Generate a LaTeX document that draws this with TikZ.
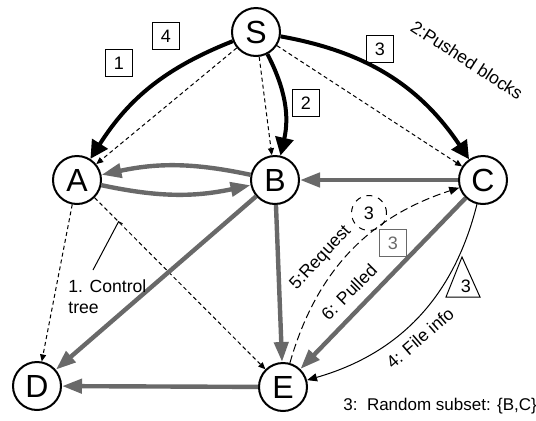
\documentclass[tikz,border=0pt]{standalone}
\usepackage{fontspec}
\setmainfont{Liberation Sans}
\usetikzlibrary{arrows.meta}
\definecolor{pullgray}{RGB}{105,105,105}

\begin{document}
\begin{tikzpicture}[x=0.5pt,y=0.5pt,
  peer/.style={circle,draw,line width=1pt,minimum size=24pt,inner sep=0pt,fill=white,font=\fontsize{16}{16}\selectfont},
  push/.style={-{Triangle[length=9pt,width=9pt]},line width=2pt},
  ctrl/.style={-{Triangle[length=3.5pt,width=3pt]},dash pattern=on 2pt off 1.5pt,line width=0.5pt},
  pull/.style={-{Triangle[length=10pt,width=7pt]},line width=2.2pt,pullgray},
  numbox/.style={draw,line width=0.6pt,minimum size=13.5pt,inner sep=0pt,font=\fontsize{9}{9}\selectfont},
  lbl/.style={font=\fontsize{8.8}{10.5}\selectfont,inner sep=1pt}]
\useasboundingbox (0,0) rectangle (536,420);
% peers
\node[peer] (S) at (256,388) {S};
\node[peer] (A) at (77,240) {A};
\node[peer] (B) at (275,240) {B};
\node[peer] (C) at (483,240) {C};
\node[peer] (D) at (37,34) {D};
\node[peer] (E) at (283,33) {E};
% control tree
\draw[ctrl] (S) -- (A);
\draw[ctrl] (S) -- (B);
\draw[ctrl] (S) -- (C);
\draw[ctrl] (A) -- (D);
\draw[ctrl] (A) -- coordinate[pos=0.14] (ctl) (E);
% pushed blocks
\draw[push] (S) to[bend right=18] (A);
\draw[push] (S) to[bend left=20] (B);
\draw[push] (S) to[bend left=23] (C);
% exchanged and pulled blocks
\draw[pull] (B) to[bend right=12] (A);
\draw[pull] (A) to[bend right=12] (B);
\draw[pull] (C) -- (B);
\draw[pull] (B) -- (D);
\draw[pull] (B) -- (E);
\draw[pull] (E) -- (D);
\draw[pull] (C) -- (E);
\draw[-{Triangle[length=5pt,width=4pt]},dash pattern=on 4pt off 2pt,line width=0.5pt] (E) to[bend left=28] (C);
\draw[-{Triangle[length=5pt,width=4pt]},line width=0.5pt] (C) to[bend left=30] (E);
% block numbers
\node[numbox] (n4) at (166,384) {4};
\node[numbox] (n1) at (119,357) {1};
\node[numbox] (n2) at (306,317) {2};
\node[numbox] (n3) at (380,371) {3};
\node[numbox,draw=pullgray,text=pullgray] (g3) at (393,177) {3};
\node[circle,draw,dashed,line width=0.5pt,minimum size=17.5pt,inner sep=0pt,font=\fontsize{9}{9}\selectfont] (r3) at (369,207) {3};
\draw[line width=0.5pt] (446,123) -- (462,163) -- (480,123) -- cycle;
\node[font=\fontsize{9}{9}\selectfont] (t3) at (466,134) {3};
% labels
\node[lbl,rotate=-33] (pushlbl) at (467,360) {2:Pushed blocks};
\node[lbl,rotate=47] (reqlbl) at (321,162) {5:Request};
\node[lbl,rotate=45] (pulllbl) at (349,128) {6: Pulled};
\node[lbl,rotate=41] (infolbl) at (420,82) {4: File info};
\node[lbl,anchor=west,font=\fontsize{8.5}{10}\selectfont] (sublbl) at (341,14) {3:\ \ Random subset: \{B,C\}};
\node[lbl,anchor=north west,align=left] (ctltxt) at (66,143) {1. Control\\tree};
\coordinate (ctlfoot) at (93,150);
\draw[line width=0.5pt] (ctlfoot) -- (ctl) -- ++(4,-2);
\end{tikzpicture}
\end{document}
